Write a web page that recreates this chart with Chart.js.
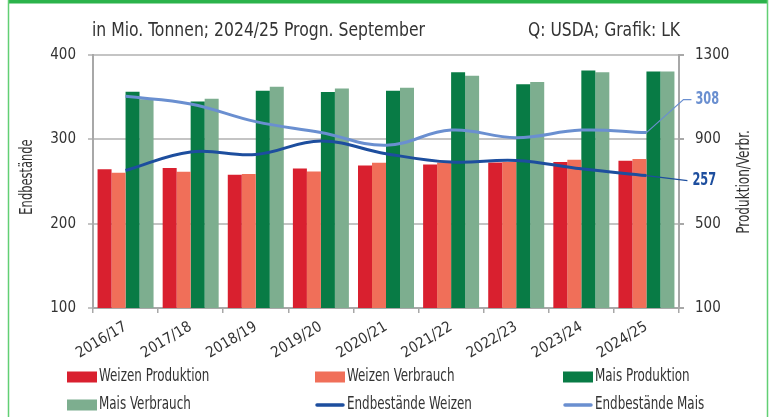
<!DOCTYPE html>
<html>
<head>
<meta charset="utf-8">
<script src="https://cdn.jsdelivr.net/npm/chart.js@4/dist/chart.umd.min.js"></script>
<style>
html, body { margin: 0; padding: 0; background: #fff; }
#wrap { position: relative; width: 783px; height: 417px; }
</style>
</head>
<body>
<div id="wrap"><canvas id="chart" width="783" height="417"></canvas></div>
<script>
// values (Mio. Tonnen)
const labels = ["2016/17", "2017/18", "2018/19", "2019/20", "2020/21", "2021/22", "2022/23", "2023/24", "2024/25"];
const weizenProd = [758, 764, 732, 762, 776, 781, 790, 792, 798];
const weizenVerb = [741, 746, 736, 748, 789, 790, 792, 803, 807];
const maisProd = [1126, 1080, 1130, 1125, 1131, 1218, 1161, 1227, 1222];
const maisVerb = [1090, 1092, 1150, 1141, 1145, 1201, 1172, 1218, 1222];
const endWeizen = [263, 285, 282, 298, 283, 273, 275, 265, 257];
const endMais = [351, 342, 321, 308, 293, 311, 302, 311, 308];

const FONT = "'Liberation Sans Narrow', 'DejaVu Sans Condensed', 'Roboto Condensed', Roboto, sans-serif";
const TEXT = "#333";

const colors = {
    wp: "#d9202f",
    wv: "#f06f59",
    mp: "#087b45",
    mv: "#7dae8f",
    ew: "#1d4e9e",
    em: "#6a8fd0"
};

function bar(label, data, color) {
    return {
        type: "bar",
        label: label,
        data: data,
        backgroundColor: color,
        yAxisID: "y1",
        categoryPercentage: 0.86,
        barPercentage: 1,
        order: 1
    };
}

function line(label, data, color) {
    return {
        type: "line",
        label: label,
        data: data,
        borderColor: color,
        backgroundColor: color,
        borderWidth: 3,
        tension: 0.4,
        pointRadius: 0,
        fill: false,
        yAxisID: "y",
        order: 0
    };
}

// squeezed text, the original uses a condensed face
function narrowText(ctx, text, x, y, font, sx, align, rot) {
    ctx.save();
    ctx.translate(x, y);
    if (rot) ctx.rotate(rot);
    ctx.scale(sx, 1);
    ctx.font = font;
    ctx.textAlign = align;
    ctx.textBaseline = "middle";
    ctx.fillText(text, 0, 0);
    ctx.restore();
}

// frame, texts, leader labels and legend
const deco = {
    id: "deco",
    afterDraw(chart) {
        const ctx = chart.ctx;
        ctx.save();

        // green frame
        ctx.fillStyle = "#2bb34b";
        ctx.fillRect(8, 0, 760, 3.5);
        ctx.strokeStyle = "#62cf74";
        ctx.lineWidth = 1.5;
        ctx.beginPath();
        ctx.moveTo(8.5, 0); ctx.lineTo(8.5, 417);
        ctx.moveTo(767.5, 0); ctx.lineTo(767.5, 417);
        ctx.stroke();

        // header
        ctx.fillStyle = TEXT;
        narrowText(ctx, "in Mio. Tonnen; 2024/25 Progn. September", 92, 31, "19px " + FONT, 0.915, "left");
        narrowText(ctx, "Q: USDA; Grafik: LK", 680, 31, "19px " + FONT, 0.91, "right");

        // axis titles
        narrowText(ctx, "Endbestände", 28, 177, "17px " + FONT, 0.75, "center", -Math.PI / 2);
        narrowText(ctx, "Produktion/Verbr.", 745, 182, "17px " + FONT, 0.79, "center", -Math.PI / 2);

        // leader labels at the end of the stock lines
        const last = labels.length - 1;
        const pm = chart.getDatasetMeta(5).data[last];
        const pw = chart.getDatasetMeta(4).data[last];
        ctx.lineWidth = 1.2;
        ctx.strokeStyle = colors.em;
        ctx.beginPath();
        ctx.moveTo(pm.x, pm.y);
        ctx.lineTo(pm.x + 37, pm.y - 33);
        ctx.lineTo(pm.x + 45, pm.y - 33);
        ctx.stroke();
        ctx.strokeStyle = colors.ew;
        ctx.beginPath();
        ctx.moveTo(pw.x, pw.y);
        ctx.lineTo(pw.x + 41, pw.y + 5);
        ctx.stroke();
        ctx.fillStyle = colors.em;
        narrowText(ctx, String(endMais[last]), pm.x + 49, pm.y - 33, "bold 18px " + FONT, 0.7, "left");
        ctx.fillStyle = colors.ew;
        narrowText(ctx, String(endWeizen[last]), pw.x + 46, pw.y + 5, "bold 18px " + FONT, 0.7, "left");

        // legend, 3 columns x 2 rows
        const items = [
            ["Weizen Produktion", colors.wp, "box"],
            ["Weizen Verbrauch", colors.wv, "box"],
            ["Mais Produktion", colors.mp, "box"],
            ["Mais Verbrauch", colors.mv, "box"],
            ["Endbestände Weizen", colors.ew, "line"],
            ["Endbestände Mais", colors.em, "line"]
        ];
        const cols = [67, 315, 563];
        const rows = [377, 405];
        items.forEach(function(it, i) {
            const x = cols[i % 3];
            const y = rows[Math.floor(i / 3)];
            if (it[2] == "box") {
                ctx.fillStyle = it[1];
                ctx.fillRect(x, y - 5.5, 30, 11);
            } else {
                ctx.strokeStyle = it[1];
                ctx.lineWidth = 3.5;
                ctx.lineCap = "round";
                ctx.beginPath();
                ctx.moveTo(x + 2, y);
                ctx.lineTo(x + 28, y);
                ctx.stroke();
            }
            ctx.fillStyle = TEXT;
            narrowText(ctx, it[0], x + 32, y, "17px " + FONT, 0.78, "left");
        });

        ctx.restore();
    }
};

const tickFont = { family: FONT, size: 15 };

const chart = new Chart(document.getElementById("chart"), {
    data: {
        labels: labels,
        datasets: [
            bar("Weizen Produktion", weizenProd, colors.wp),
            bar("Weizen Verbrauch", weizenVerb, colors.wv),
            bar("Mais Produktion", maisProd, colors.mp),
            bar("Mais Verbrauch", maisVerb, colors.mv),
            line("Endbestände Weizen", endWeizen, colors.ew),
            line("Endbestände Mais", endMais, colors.em)
        ]
    },
    options: {
        responsive: false,
        animation: false,
        layout: { padding: { top: 55, left: 0, right: 0, bottom: 0 } },
        plugins: {
            legend: { display: false },
            tooltip: { enabled: false }
        },
        scales: {
            x: {
                position: "bottom",
                offset: true,
                grid: { drawOnChartArea: false, drawTicks: true, tickLength: 5, offset: true, color: "#a8a8a8", lineWidth: 1.5 },
                border: { color: "#a8a8a8", width: 2 },
                ticks: { minRotation: 31, maxRotation: 31, padding: 5, color: TEXT, font: tickFont },
                afterFit: function(s) { s.height = 417 - 308; }
            },
            y: {
                position: "left",
                min: 100,
                max: 400,
                ticks: { stepSize: 100, padding: 12, color: TEXT, font: tickFont },
                grid: { color: "#c4c4c4", lineWidth: 2, tickLength: 5 },
                border: { color: "#a8a8a8", width: 2 },
                afterFit: function(s) { s.width = 93; }
            },
            y1: {
                position: "right",
                min: 100,
                max: 1300,
                ticks: {
                    stepSize: 400, padding: 11, color: TEXT, font: tickFont,
                    callback: function(v) { return String(v); }
                },
                grid: { drawOnChartArea: false, color: "#a8a8a8", lineWidth: 2, tickLength: 5 },
                border: { color: "#a8a8a8", width: 2 },
                afterFit: function(s) { s.width = 783 - 679; }
            }
        }
    },
    plugins: [deco]
});
</script>
</body>
</html>
